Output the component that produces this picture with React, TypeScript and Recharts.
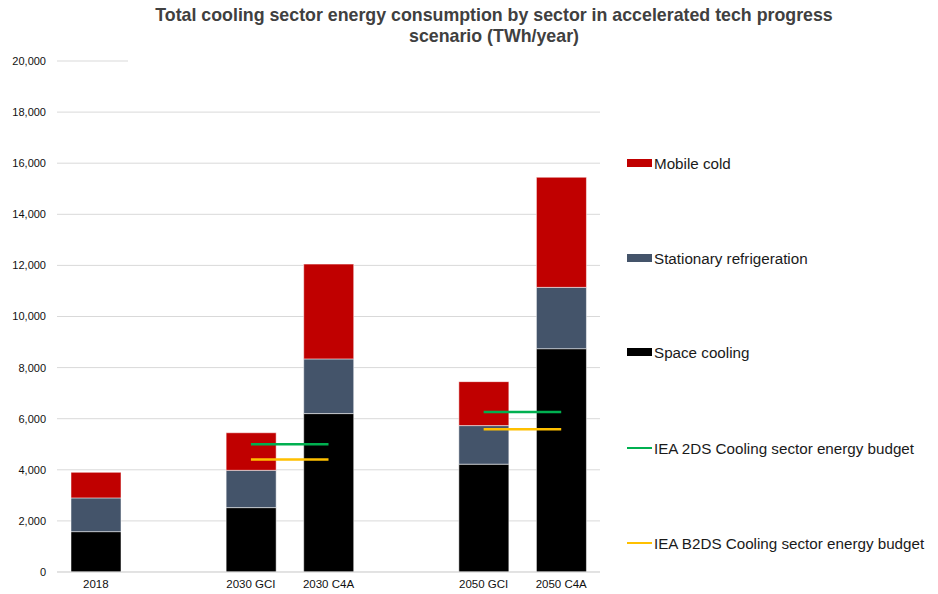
import { Bar, CartesianGrid, ComposedChart, Line, XAxis, YAxis } from "recharts";

// empty slots separate the 2018 / 2030 / 2050 groups
const categories = ["2018", "", "2030 GCI", "2030 C4A", " ", "2050 GCI", "2050 C4A"];
const spaceCooling = [1580, null, 2520, 6200, null, 4220, 8740];
const stationaryRefrigeration = [1320, null, 1460, 2140, null, 1510, 2400];
const mobileCold = [1000, null, 1470, 3710, null, 1720, 4310];
const iea2ds = [null, null, 5000, 5000, null, 6260, 6260];
const ieaB2ds = [null, null, 4400, 4400, null, 5590, 5590];
const yTicks = [0, 2000, 4000, 6000, 8000, 10000, 12000, 14000, 16000, 18000, 20000];

const data = categories.map((name, i) => ({
  name,
  space: spaceCooling[i],
  stationary: stationaryRefrigeration[i],
  mobile: mobileCold[i],
  b2ds: ieaB2ds[i],
  twoDs: iea2ds[i],
}));

const legendItems = [
  { label: "Mobile cold", color: "#C00000", kind: "box", y: 163 },
  { label: "Stationary refrigeration", color: "#44546A", kind: "box", y: 258 },
  { label: "Space cooling", color: "#000000", kind: "box", y: 352 },
  { label: "IEA 2DS Cooling sector energy budget", color: "#00B050", kind: "line", y: 448 },
  { label: "IEA B2DS Cooling sector energy budget", color: "#FFC000", kind: "line", y: 543 },
];

const font = "'Liberation Sans', Arial, sans-serif";

export default function App() {
  return (
    <div
      style={{
        position: "absolute",
        left: 0,
        top: 0,
        width: 938,
        height: 594,
        background: "#fff",
        fontFamily: font,
      }}
    >
      <div
        style={{
          position: "absolute",
          left: 94,
          width: 800,
          top: 5,
          textAlign: "center",
          fontSize: 17.8,
          fontWeight: "bold",
          color: "#404040",
          lineHeight: "21px",
        }}
      >
        Total cooling sector energy consumption by sector in accelerated tech progress
        <br />
        scenario (TWh/year)
      </div>
      <ComposedChart
        width={938}
        height={594}
        data={data}
        margin={{ top: 61, right: 338, bottom: 0, left: 0 }}
        barSize={50}
      >
        <CartesianGrid vertical={false} stroke="#d9d9d9" />
        <XAxis
          dataKey="name"
          height={22}
          tickLine={false}
          tickSize={0}
          tickMargin={8}
          axisLine={{ stroke: "#d9d9d9" }}
          tick={{ fontSize: 11.5, fill: "#111", fontFamily: font }}
          interval={0}
        />
        <YAxis
          width={57}
          domain={[0, 20000]}
          ticks={yTicks}
          axisLine={false}
          tickLine={false}
          tickSize={0}
          tickMargin={11}
          tick={{ fontSize: 11, fill: "#111", fontFamily: font }}
          tickFormatter={(v: number) => v.toLocaleString("en-US")}
        />
        <Bar dataKey="space" stackId="a" fill="#000000" stroke="#ffffff" strokeWidth={0.5} isAnimationActive={false} />
        <Bar dataKey="stationary" stackId="a" fill="#44546A" stroke="#ffffff" strokeWidth={0.5} isAnimationActive={false} />
        <Bar dataKey="mobile" stackId="a" fill="#C00000" stroke="#ffffff" strokeWidth={0.5} isAnimationActive={false} />
        <Line dataKey="twoDs" stroke="#00B050" strokeWidth={2.5} dot={false} activeDot={false} isAnimationActive={false} />
        <Line dataKey="b2ds" stroke="#FFC000" strokeWidth={2.5} dot={false} activeDot={false} isAnimationActive={false} />
      </ComposedChart>
      {/* the top gridline is cut short in the original */}
      <div style={{ position: "absolute", left: 128, top: 58, width: 480, height: 6, background: "#fff" }} />
      {legendItems.map((item) => (
        <div
          key={item.label}
          style={{
            position: "absolute",
            left: 627,
            top: item.y - 10,
            height: 20,
            display: "flex",
            alignItems: "center",
            fontSize: 15.2,
            color: "#1a1a1a",
            whiteSpace: "nowrap",
          }}
        >
          <span
            style={{
              display: "inline-block",
              width: 25,
              height: item.kind === "box" ? 8 : 2.5,
              background: item.color,
              marginRight: 2,
            }}
          />
          {item.label}
        </div>
      ))}
    </div>
  );
}
